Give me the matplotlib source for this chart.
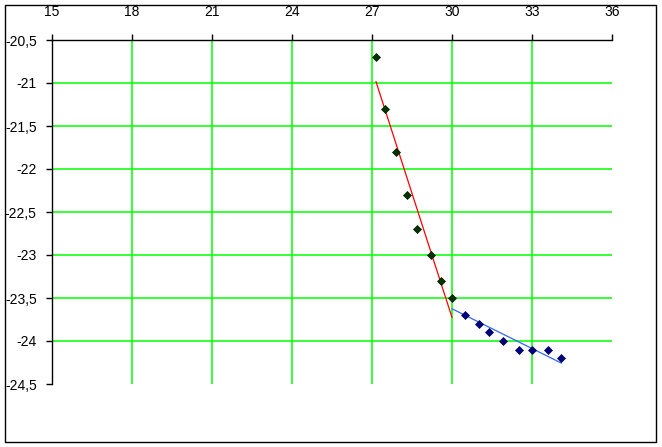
import numpy as np
import matplotlib.pyplot as plt
from matplotlib.ticker import FuncFormatter
from matplotlib.patches import Rectangle

plt.rcParams['font.family'] = ['Liberation Sans', 'DejaVu Sans']

# data
x_green = [27.15, 27.5, 27.9, 28.3, 28.7, 29.2, 29.6, 30.0]
y_green = [-20.7, -21.3, -21.8, -22.3, -22.7, -23.0, -23.3, -23.5]
x_blue = [30.5, 31.0, 31.4, 31.9, 32.5, 33.0, 33.6, 34.1]
y_blue = [-23.7, -23.8, -23.9, -24.0, -24.1, -24.1, -24.1, -24.2]

x_ticks = [15, 18, 21, 24, 27, 30, 33, 36]
y_ticks = [-20.5, -21, -21.5, -22, -22.5, -23, -23.5, -24, -24.5]

fig = plt.figure(figsize=(6.62, 4.47), dpi=100)
ax = fig.add_axes([52/662, 1 - 384/447, 560/662, 344/447])

ax.set_xlim(15, 36)
ax.set_ylim(-24.5, -20.5)

# grid, drawn by hand so the outer edges stay empty
ax.vlines(x_ticks[1:-1], -24.5, -20.5, color='#00FF00', lw=1.1, zorder=1)
ax.hlines(y_ticks[1:-1], 15, 36, color='#00FF00', lw=1.1, zorder=1)

# trend lines (linear fits)
p1 = np.polyfit(x_green, y_green, 1)
xs1 = np.array([min(x_green), max(x_green)])
ax.plot(xs1, np.polyval(p1, xs1), color='#FF0000', lw=0.9, zorder=2)

xb_fit = [x_green[-1]] + x_blue
yb_fit = [y_green[-1]] + y_blue
p2 = np.polyfit(xb_fit, yb_fit, 1)
xs2 = np.array([min(xb_fit), max(xb_fit)])
ax.plot(xs2, np.polyval(p2, xs2), color='#3366FF', lw=0.9, zorder=2)

ax.plot(x_green, y_green, 'D', ms=4, color='#003300', mec='#001a00', mew=0.5, zorder=3)
ax.plot(x_blue, y_blue, 'D', ms=4, color='#000080', mec='#000050', mew=0.5, zorder=3)

ax.set_xticks(x_ticks)
ax.set_yticks(y_ticks)
fmt = FuncFormatter(lambda v, pos: ('%g' % v).replace('.', ','))
ax.xaxis.set_major_formatter(fmt)
ax.yaxis.set_major_formatter(fmt)
ax.xaxis.tick_top()
ax.tick_params(axis='x', direction='out', length=4, width=1, pad=11, labelsize=10)
ax.tick_params(axis='y', direction='out', length=4, width=1, pad=7, labelsize=10)

for s in ['right', 'bottom']:
    ax.spines[s].set_visible(False)
for s in ['top', 'left']:
    ax.spines[s].set_linewidth(1)
ax.patch.set_visible(False)

fig.patches.append(Rectangle((5/662, 5/447), 651/662, 437/447,
                             transform=fig.transFigure, fill=False,
                             edgecolor='black', lw=1))

fig.savefig('out.png', dpi=100)
